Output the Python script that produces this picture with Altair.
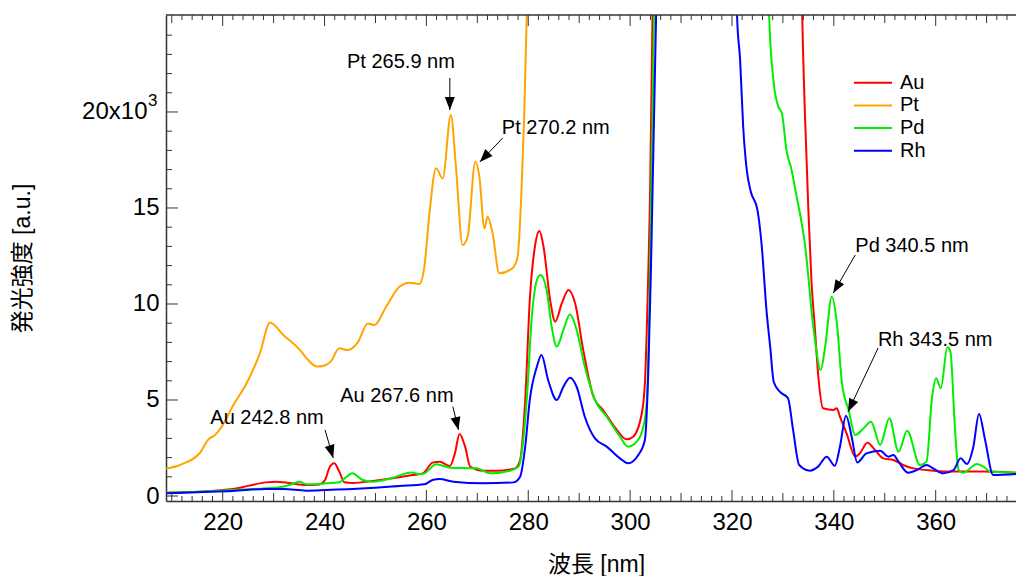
import math
import altair as alt
import pandas as pd

# ---------------- data ----------------
SERIES = ["Au", "Pt", "Pd", "Rh"]
COLORS = ["#ff0000", "#ffa500", "#00ee00", "#0000ff"]

AU = [(208.9, 170), (212, 195), (215.4, 225), (219, 290), (222, 365), (225.2, 540), (228.5, 710),
      (230.5, 745), (233.1, 675), (236.4, 570), (239, 605), (240.1, 830), (240.9, 1440), (241.9, 1700),
      (242.9, 1270), (243.9, 715), (245.5, 680), (249.5, 780), (253.4, 920), (257.3, 1090), (259.3, 1180),
      (261.2, 1740), (262.6, 1790), (264.6, 1560), (265.6, 2220), (266.5, 3230), (267.6, 2570),
      (268.6, 1530), (271.2, 1320), (273.8, 1320), (277.4, 1440), (278.4, 1875), (279.4, 5000),
      (280.3, 10200), (281.3, 12980), (282.2, 13800), (283.0, 12980), (284.3, 10200), (285.3, 9080),
      (286.6, 10040), (287.9, 10730), (289.2, 10040), (290.8, 7600), (292.8, 5170), (294.7, 4480),
      (297.4, 3440), (299.3, 2950), (300.6, 3090), (302.3, 4310), (302.9, 5870), (303.6, 11940),
      (303.9, 15420), (304.4, 25000), (305.0, 40000), (320, 60000), (333.0, 40000), (333.8, 25000),
      (334.3, 20100), (335.0, 14900), (335.6, 11250), (336.3, 8650), (336.9, 6390), (337.9, 4570),
      (339.9, 4480), (340.6, 4570), (341.2, 4130), (342.5, 3260), (344.2, 2050), (345.1, 2220),
      (346.6, 2780), (348.1, 2400), (349.7, 1960), (351.7, 1875), (353.6, 1615), (355.6, 1440),
      (359.5, 1320), (362.8, 1270), (369.4, 1270), (375.8, 1210)]

PT = [(208.9, 1420), (211.6, 1615), (215.5, 2240), (217.2, 2950), (218.5, 3180), (219.8, 3610),
      (222.1, 4740), (224.7, 5870), (227.3, 7430), (229.3, 9030), (231.9, 8390), (235.2, 7600),
      (236.5, 7170), (238.5, 6740), (240.0, 6800), (241.2, 7000), (242.9, 7690), (244.5, 7600),
      (246.5, 7990), (248.5, 8990), (249.8, 8900), (252.1, 9860), (254.7, 10900), (256.7, 11110),
      (258.6, 11040), (259.6, 11940), (260.6, 14720), (261.9, 17070), (263.2, 16540), (264.8, 19840),
      (265.8, 17150), (267.1, 13070), (268.1, 13500), (269.6, 17410), (270.4, 16630), (271.4, 13940),
      (272.0, 14550), (273.0, 13680), (274.3, 11600), (276.9, 11860), (277.9, 12460), (278.6, 15420),
      (279.2, 19750), (279.7, 25000), (280.5, 40000)]

PD = [(208.9, 170), (215.4, 225), (222, 310), (228.5, 400), (231.8, 485), (233.8, 640), (235.1, 745),
      (236.4, 610), (238.3, 610), (240.3, 660), (242.9, 715), (244.3, 1000), (245.5, 1180),
      (246.6, 1000), (247.5, 830), (249.5, 745), (253.4, 955), (257.0, 1230), (258.6, 1145),
      (259.6, 1180), (261.9, 1650), (263.2, 1580), (264.6, 1475), (269.9, 1440), (272.5, 1180),
      (276.4, 1320), (278.1, 1530), (278.7, 2220), (279.7, 5000), (280.7, 9340), (281.7, 11250),
      (282.4, 11510), (283.6, 10730), (284.6, 8820), (285.6, 7780), (286.9, 8650), (288.2, 9460),
      (289.5, 8650), (291.1, 6740), (293.1, 5000), (295.4, 4130), (298.0, 3090), (299.6, 2570),
      (301.3, 2830), (302.6, 3610), (303.3, 5000), (303.8, 10200), (304.7, 25000), (305.5, 40000),
      (320, 60000), (326.5, 40000), (327.3, 25000), (328.2, 21500), (329.1, 20280), (329.8, 19930),
      (330.7, 18020), (331.7, 16980), (332.7, 15590), (333.7, 14200), (334.3, 13160), (335.0, 11420),
      (335.6, 9690), (336.3, 8125), (337.4, 6560), (338.3, 7780), (339.6, 10380), (340.6, 8990),
      (341.6, 5870), (342.9, 4480), (344.2, 3180), (345.8, 3520), (347.3, 3870), (349.1, 2660),
      (350.9, 4050), (352.7, 2310), (354.4, 3400), (356.9, 1615), (358.2, 1790), (359.3, 5170),
      (360.1, 6130), (361.0, 5610), (362.3, 7750), (362.9, 7500), (363.8, 3440), (364.5, 1355),
      (365.4, 1210), (368.1, 1670), (369.4, 1530), (370.7, 1270), (375.8, 1210)]

RH = [(208.9, 140), (215, 200), (222, 260), (228.5, 365), (232, 360), (236.4, 280), (240.3, 310),
      (248.1, 400), (254.7, 520), (259.6, 610), (261.2, 830), (262.6, 880), (265.3, 745), (271.2, 660),
      (277.1, 710), (278.4, 1005), (279.4, 2570), (280.3, 5000), (281.7, 6740), (282.6, 7340),
      (283.9, 6040), (285.6, 5000), (286.9, 5690), (288.2, 6160), (289.5, 5690), (291.1, 4130),
      (293.1, 3000), (295.4, 2570), (298.0, 1960), (299.6, 1700), (301.6, 2135), (302.9, 2920),
      (303.6, 6740), (304.1, 11940), (305.1, 25000), (306, 40000), (315, 60000), (320.5, 40000),
      (321.0, 25000), (321.6, 22700), (322.2, 19240), (322.9, 16980), (323.7, 15850), (325.0, 14900),
      (325.8, 13160), (326.8, 9600), (327.5, 7780), (328.2, 5950), (329.4, 5430), (331.0, 5090),
      (332.0, 3440), (333.2, 1615), (335.3, 1320), (336.9, 1530), (338.6, 2050), (340.2, 1580),
      (341.2, 2570), (342.4, 4180), (343.5, 3090), (344.6, 1740), (346.4, 2220), (349.1, 2360),
      (350.7, 2050), (351.7, 2135), (352.7, 1790), (354.6, 1210), (356.3, 1355), (358.2, 1615),
      (359.5, 1440), (361.5, 1180), (363.5, 1355), (364.9, 1960), (366.1, 1670), (367.4, 2570),
      (368.5, 4270), (369.7, 2920), (371.3, 1090), (375.8, 1145)]

# annotations: label, text centre (x, y), arrow tail (x, y), arrow tip (x, y)
ANN_LABEL = ["Pt 265.9 nm", "Pt 270.2 nm", "Au 242.8 nm", "Au 267.6 nm", "Pd 340.5 nm", "Rh 343.5 nm"]
ANN_TX = [255.0, 285.4, 228.7, 254.2, 355.35, 359.9]
ANN_TY = [22600, 19170, 4060, 5210, 13040, 8125]
ANN_X1 = [264.6, 275.0, 240.1, 265.2, 344.2, 348.7]
ANN_Y1 = [21770, 18650, 3440, 4650, 12550, 7710]
ANN_X2 = [264.6, 270.5, 241.7, 266.3, 339.9, 342.8]
ANN_Y2 = [20100, 17400, 1980, 3440, 10570, 4390]

X_LABELS = [220, 240, 260, 280, 300, 320, 340, 360]
X_MEDIUM = [210, 230, 250, 270, 290, 310, 330, 350, 370]
X_MINOR = [v for v in range(210, 376, 2) if v % 10 != 0]
Y_LABELS = [0, 5000, 10000, 15000, 20000]
Y_MINOR = [v for v in range(0, 25000, 1000) if v % 5000 != 0]
Y_EXP_AT = [20000]

X_DOMAIN = [208.87, 375.77]
Y_DOMAIN = [-260, 25050]
W, H = 850, 486

AXC = "#333333"
FONT = "Liberation Sans"
TFONT = "Liberation Sans, Noto Sans CJK JP"

# ---------------- tables ----------------
rows = []
for name, pts in zip(SERIES, [AU, PT, PD, RH]):
    for x, y in pts:
        rows.append({"series": name, "wl": x, "val": y})
df = pd.DataFrame(rows)

xs = alt.Scale(domain=X_DOMAIN, nice=False, zero=False)
ys = alt.Scale(domain=Y_DOMAIN, nice=False, zero=False)

AX_X = alt.Axis(values=X_LABELS, ticks=False, grid=False, domain=True, domainColor=AXC,
                domainWidth=1.5, labelFont=FONT, labelFontSize=24, labelColor="black",
                labelPadding=9, title="波長 [nm]", titleFont=TFONT, titleFontSize=23,
                titleFontWeight="normal", titleColor="black", titleX=430, titleY=63,
                titleBaseline="middle", titleAlign="center")
AX_Y = alt.Axis(values=Y_LABELS, ticks=False, grid=False, domain=True, domainColor=AXC,
                domainWidth=1.5, labelFont=FONT, labelFontSize=24, labelColor="black",
                labelPadding={"condition": {"test": "datum.value == 20000", "value": 19}, "value": 7},
                labelExpr="datum.value == 20000 ? '20x10' : format(datum.value / 1000, 'd')",
                title="発光強度 [a.u.]", titleFont=TFONT, titleFontSize=23,
                titleFontWeight="normal", titleColor="black", titleX=-144, titleY=243,
                titleAngle=270, titleBaseline="middle", titleAlign="center")

layers = []

# spectra, one layer each so that Rh is drawn on top
for name, col in zip(SERIES, COLORS):
    layers.append(
        alt.Chart(df).transform_filter(alt.datum.series == name)
        .mark_line(strokeWidth=2, clip=True, color=col, interpolate="monotone")
        .encode(x=alt.X("wl:Q", scale=xs, axis=AX_X),
                y=alt.Y("val:Q", scale=ys, axis=AX_Y),
                order="wl:Q")
    )

# inward ticks
def xtick_layer(vals, length):
    d = pd.DataFrame({"wl": vals})
    bottom = alt.Chart(d).mark_rule(color=AXC, strokeWidth=1).encode(
        x=alt.X("wl:Q", scale=xs, axis=AX_X), y=alt.value(H), y2=alt.value(H - length))
    top = alt.Chart(d).mark_rule(color=AXC, strokeWidth=1).encode(
        x=alt.X("wl:Q", scale=xs, axis=AX_X), y=alt.value(0), y2=alt.value(length))
    return [bottom, top]


def ytick_layer(vals, length):
    d = pd.DataFrame({"val": vals})
    return [alt.Chart(d).mark_rule(color=AXC, strokeWidth=1).encode(
        y=alt.Y("val:Q", scale=ys, axis=AX_Y), x=alt.value(0), x2=alt.value(length))]


layers += xtick_layer(X_LABELS, 11)
layers += xtick_layer(X_MEDIUM, 8)
layers += xtick_layer(X_MINOR, 5)
layers += ytick_layer(Y_LABELS, 12)
layers += ytick_layer(Y_MINOR, 6)

# exponent of the "20x10^3" tick label
layers.append(alt.Chart(pd.DataFrame({"val": Y_EXP_AT, "t": ["3"]})).mark_text(
    font=FONT, fontSize=17, color="black", align="left", baseline="middle", dy=-11).encode(
    y=alt.Y("val:Q", scale=ys, axis=AX_Y), x=alt.value(-18), text="t:N"))

# top frame line
layers.append(alt.Chart(alt.Data(values=[{"k": 1}])).mark_rule(color=AXC, strokeWidth=1.5).encode(
    x=alt.value(0), x2=alt.value(W), y=alt.value(0)))

# annotations
sx = W / (X_DOMAIN[1] - X_DOMAIN[0])
sy = H / (Y_DOMAIN[1] - Y_DOMAIN[0])
ang = []
for x1, y1, x2, y2 in zip(ANN_X1, ANN_Y1, ANN_X2, ANN_Y2):
    dx = (x2 - x1) * sx
    dy = -(y2 - y1) * sy
    ang.append(math.degrees(math.atan2(dx, -dy)) % 360)
ann = pd.DataFrame({"label": ANN_LABEL, "tx": ANN_TX, "ty": ANN_TY, "wl": ANN_X1,
                    "val": ANN_Y1, "x2": ANN_X2, "y2": ANN_Y2, "ang": ang})

layers.append(alt.Chart(ann).mark_rule(color="black", strokeWidth=1).encode(
    x=alt.X("wl:Q", scale=xs, axis=AX_X), y=alt.Y("val:Q", scale=ys, axis=AX_Y),
    x2="x2:Q", y2="y2:Q"))
layers.append(alt.Chart(ann).mark_point(shape="M0,0L0.77,2L-0.77,2Z", size=169, filled=True,
                                        color="black", opacity=1, strokeWidth=0).encode(
    x=alt.X("x2:Q", scale=xs, axis=AX_X), y=alt.Y("y2:Q", scale=ys, axis=AX_Y),
    angle=alt.Angle("ang:Q", scale=None)))
layers.append(alt.Chart(ann).mark_text(font=FONT, fontSize=20, color="black", align="center",
                                       baseline="middle").encode(
    x=alt.X("tx:Q", scale=xs, axis=AX_X), y=alt.Y("ty:Q", scale=ys, axis=AX_Y), text="label:N"))

# legend (drawn by hand, lines + names)
LEG_Y0, LEG_DY = 67.7, 22.7
for i, (name, col) in enumerate(zip(SERIES, COLORS)):
    d = pd.DataFrame({"name": [name]})
    yy = LEG_Y0 + i * LEG_DY
    layers.append(alt.Chart(d).mark_rule(color=col, strokeWidth=2).encode(
        x=alt.value(688), x2=alt.value(726), y=alt.value(yy)))
    layers.append(alt.Chart(d).mark_text(font=FONT, fontSize=20, color="black", align="left",
                                         baseline="middle").encode(
        x=alt.value(734), y=alt.value(yy), text="name:N"))

chart = alt.layer(*layers).properties(
    width=W, height=H,
    autosize=alt.AutoSizeParams(type="none"),
    padding={"left": 166, "top": 15, "right": 0, "bottom": 75},
    background="white",
).configure_view(stroke=None)

chart.save("out.html", embed_options={"renderer": "svg", "actions": False})
